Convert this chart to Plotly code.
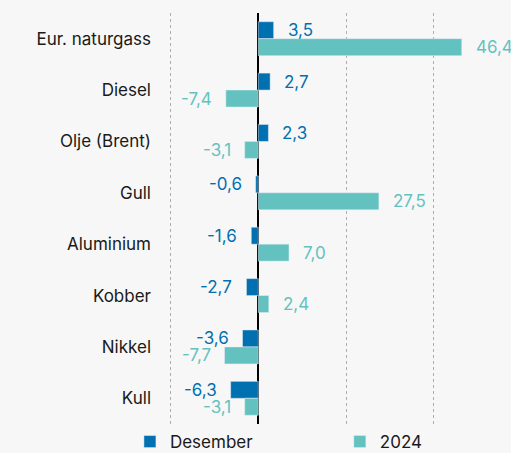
import plotly.graph_objects as go

categories = ["Eur. naturgass", "Diesel", "Olje (Brent)", "Gull", "Aluminium", "Kobber", "Nikkel", "Kull"]
desember = [3.5, 2.7, 2.3, -0.6, -1.6, -2.7, -3.6, -6.3]
aar2024 = [46.4, -7.4, -3.1, 27.5, 7.0, 2.4, -7.7, -3.1]

c_des = "#0070b0"
c_24 = "#63c2bf"
bg = "#f7f7f7"
FONT = "Inter"
FS = 17

def fmt(v):
    return f"{v:.1f}".replace(".", ",")

fig = go.Figure()
fig.add_trace(go.Bar(y=categories, x=desember, orientation="h", name="Desember",
                     marker=dict(color=c_des), legend="legend"))
fig.add_trace(go.Bar(y=categories, x=aar2024, orientation="h", name="2024",
                     marker=dict(color=c_24), legend="legend2"))

annotations = []
for vals, col, ysh in [(desember, c_des, 8.5), (aar2024, c_24, -8.5)]:
    for cat, v in zip(categories, vals):
        annotations.append(dict(
            x=v, y=cat, xref="x", yref="y", text=fmt(v), showarrow=False,
            xanchor="left" if v >= 0 else "right",
            xshift=12 if v >= 0 else -12, yshift=ysh,
            font=dict(family=FONT, size=FS, color=col)))

px_per_unit = 4.385
zero_px = 258.3
left_px = 168
x_min = (left_px - zero_px) / px_per_unit
x_max = (511 - zero_px) / px_per_unit

leg_common = dict(orientation="h", xanchor="left", y=0.0, yanchor="top",
                  font=dict(family=FONT, size=FS, color="#1a1a1a"),
                  itemwidth=30, bgcolor="rgba(0,0,0,0)")

fig.update_layout(
    width=511, height=453,
    paper_bgcolor=bg, plot_bgcolor=bg,
    margin=dict(l=left_px, r=0, t=13, b=29, autoexpand=False),
    barmode="group", bargap=0.34, bargroupgap=0,
    font=dict(family=FONT, size=FS, color="#1a1a1a"),
    annotations=annotations,
    showlegend=True,
    legend=dict(x=-0.111, **leg_common),
    legend2=dict(x=0.501, **leg_common),
    xaxis=dict(range=[x_min, x_max], tickvals=[-20, 0, 20, 40], showticklabels=False,
               showgrid=True, gridcolor="#b8aaa8", griddash="dot", gridwidth=1,
               zeroline=True, zerolinecolor="#000000", zerolinewidth=1.5,
               fixedrange=True),
    yaxis=dict(autorange="reversed", showgrid=False, ticks="", ticklabelstandoff=16,
               tickfont=dict(family=FONT, size=FS, color="#1a1a1a"), fixedrange=True),
)

fig.write_html("out.html", config={"displayModeBar": False},
               post_script="document.body.style.margin='0';document.body.style.background='" + bg + "';")
